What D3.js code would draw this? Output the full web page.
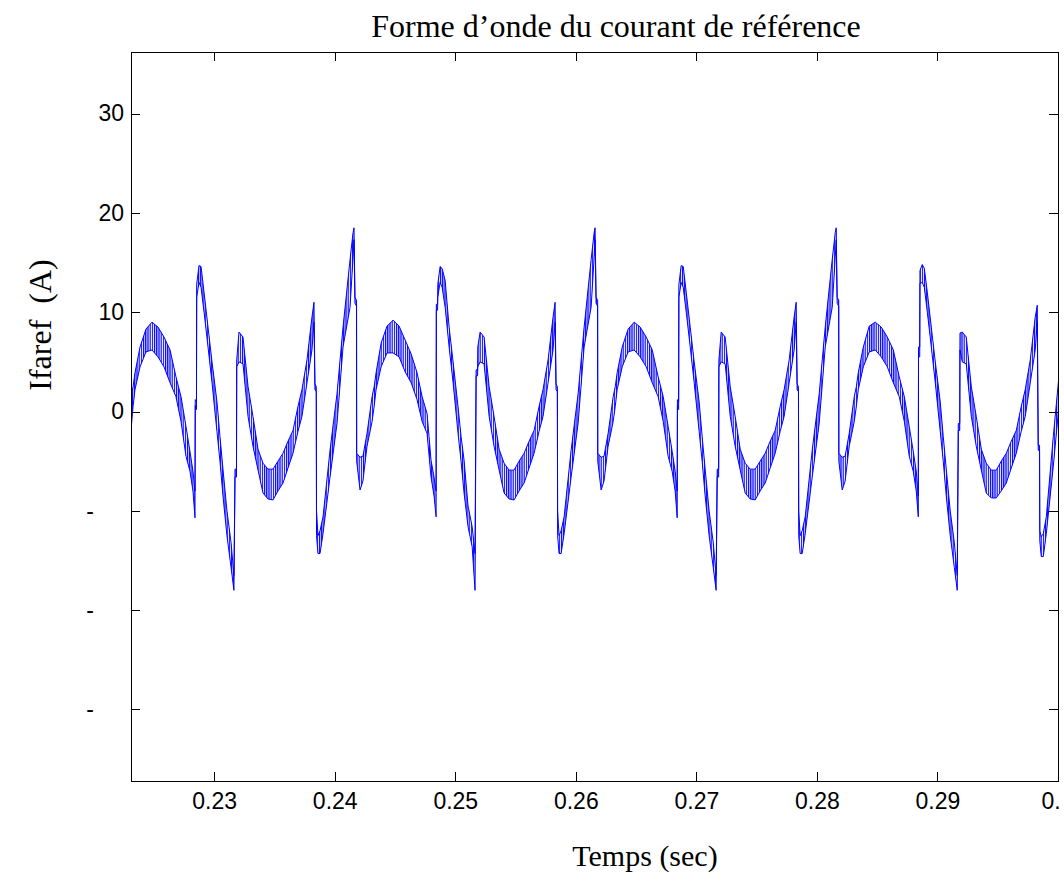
<!DOCTYPE html>
<html>
<head>
<meta charset="utf-8">
<script src="https://cdn.jsdelivr.net/npm/d3@7"></script>
<style>
  html, body { margin: 0; padding: 0; background: #fff; overflow: hidden; }
  svg { display: block; }
</style>
</head>
<body>
<svg id="chart" width="1064" height="889"></svg>
<script>
// ---- Text ----
const titleText = "Forme d’onde du courant de référence";
const xLabelText = "Temps (sec)";
const yLabelText = "Ifaref  (A)";

// ---- Ticks ----
const xTicks = [0.23, 0.24, 0.25, 0.26, 0.27, 0.28, 0.29, 0.30];
const xTickLabels = ["0.23", "0.24", "0.25", "0.26", "0.27", "0.28", "0.29", "0."];
const yTicks = [-30, -20, -10, 0, 10, 20, 30];
const yTickLabels = ["-", "-", "-", "0", "10", "20", "30"];

// ---- Reference current (A): switching-ripple envelope, one mains cycle per array ----
const cycleStart = [0.2231, 0.2431, 0.2631, 0.2831];
const phase = [0, 0.00017, 0.00033, 0.00075, 0.00124, 0.00174, 0.00224, 0.00274, 0.00324, 0.00373,
  0.00415, 0.00456, 0.00489, 0.00514, 0.00531, 0.00533, 0.00543, 0.00545, 0.00564, 0.00581,
  0.00606, 0.00639, 0.00672, 0.00713, 0.00738, 0.00763, 0.00796, 0.00830, 0.00854, 0.00863,
  0.00875, 0.00877, 0.00896, 0.00929, 0.00971, 0.01012, 0.01054, 0.01095, 0.01136, 0.01178,
  0.01219, 0.01261, 0.01302, 0.01344, 0.01385, 0.01418, 0.01460, 0.01501, 0.01518, 0.01526,
  0.01537, 0.01539, 0.01551, 0.01568, 0.01593, 0.01651, 0.01709, 0.01759, 0.01817, 0.01842,
  0.01850, 0.01858, 0.01871, 0.01872, 0.01900, 0.01924, 0.01958];

const upper1 = [1.5, 2.5, 3.9, 6.5, 8.3, 9.0, 8.5, 7.5, 6.2, 3.5,
  1.5, -1.5, -4.0, -6.0, -8.0, 1.2, 1.0, 12.8, 14.7, 14.6,
  12.0, 8.5, 5.0, 1.0, -2.5, -5.8, -10.0, -13.2, -16.5, -5.8,
  -5.8, 5.2, 8.0, 7.5, 2.5, -0.5, -3.8, -5.2, -5.8, -5.8,
  -5.0, -4.2, -3.0, -1.9, 0.5, 2.2, 5.2, 9.5, 11.0, 2.8,
  2.5, -10.0, -12.5, -12.0, -10.6, -3.9, 1.8, 8.5, 15.3, 18.0,
  18.5, 11.5, 11.2, -4.2, -4.6, -4.5, -2.2];
const lower1 = [-1.9, 0.5, 2.2, 4.5, 6.0, 6.2, 5.5, 4.5, 2.9, 1.5,
  -1.0, -4.5, -6.0, -8.0, -10.7, 0.6, 0.2, 11.5, 13.0, 12.5,
  10.0, 6.5, 2.9, -2.0, -5.0, -8.5, -12.5, -15.7, -18.0, -6.6,
  -6.6, 4.5, 5.0, 4.8, -0.5, -3.5, -5.9, -8.2, -8.8, -8.9,
  -8.0, -7.2, -5.7, -4.2, -2.0, -0.5, 2.9, 6.2, 9.0, 2.2,
  2.0, -12.5, -14.3, -14.3, -12.3, -6.6, -1.2, 6.5, 10.5, 15.5,
  17.3, 10.9, 10.6, -5.0, -7.9, -7.0, -3.5];

const upper2 = [1.5, 2.5, 3.9, 6.9, 8.6, 9.2, 8.6, 7.2, 5.8, 3.9,
  1.5, -0.2, -4.9, -6.6, -8.0, 10.8, 10.8, 12.8, 14.6, 14.4,
  13.2, 8.5, 5.0, 0.5, -2.5, -4.9, -9.5, -11.6, -14.3, 4.2,
  4.2, 6.5, 8.0, 7.5, 2.5, -0.5, -3.8, -5.2, -5.9, -5.9,
  -5.0, -4.2, -3.0, -1.9, 0.5, 2.2, 5.2, 9.5, 11.0, 2.8,
  2.5, -10.0, -12.5, -12.0, -10.6, -3.9, 1.8, 8.5, 15.3, 18.0,
  18.5, 11.5, 11.2, -4.2, -4.6, -4.5, -2.2];
const lower2 = [-1.0, 0.5, 2.2, 4.5, 5.9, 5.9, 5.5, 4.0, 2.9, 1.2,
  -1.0, -2.2, -6.6, -8.5, -10.6, 10.2, 10.2, 11.5, 13.0, 12.5,
  10.5, 6.5, 2.9, -2.2, -5.0, -8.2, -11.6, -13.6, -18.0, 3.6,
  3.6, 4.5, 5.0, 4.8, -0.5, -3.5, -5.9, -8.2, -8.8, -8.9,
  -8.0, -7.2, -5.7, -4.2, -2.0, -0.5, 2.9, 6.2, 9.0, 2.2,
  2.0, -12.5, -14.3, -14.3, -12.3, -6.6, -1.2, 6.5, 10.5, 15.5,
  17.3, 10.9, 10.6, -5.0, -7.9, -7.0, -3.5];

const upper3 = [1.5, 2.5, 3.9, 6.5, 8.3, 9.0, 8.5, 7.5, 6.2, 3.5,
  1.5, -1.5, -4.0, -6.0, -8.0, 1.2, 1.0, 12.8, 14.7, 14.6,
  12.0, 8.5, 5.0, 1.0, -2.5, -5.8, -10.0, -13.2, -16.5, -5.8,
  -5.8, 5.2, 8.0, 7.5, 2.5, -0.5, -3.8, -5.2, -5.8, -5.8,
  -5.0, -4.2, -3.0, -1.9, 0.5, 2.2, 5.2, 9.5, 11.0, 2.8,
  2.5, -10.0, -12.5, -12.0, -10.6, -3.9, 1.8, 8.5, 15.3, 18.0,
  18.5, 11.5, 11.2, -4.2, -4.6, -4.5, -2.2];
const lower3 = [-1.0, 0.5, 2.2, 4.5, 6.0, 6.2, 5.5, 4.5, 2.9, 1.5,
  -1.0, -4.5, -6.0, -8.0, -10.7, 0.6, 0.2, 11.5, 13.0, 12.5,
  10.0, 6.5, 2.9, -2.0, -5.0, -8.5, -12.5, -15.7, -18.0, -6.6,
  -6.6, 4.5, 5.0, 4.8, -0.5, -3.5, -5.9, -8.2, -8.8, -8.9,
  -8.0, -7.2, -5.7, -4.2, -2.0, -0.5, 2.9, 6.2, 9.0, 2.2,
  2.0, -12.5, -14.3, -14.3, -12.3, -6.6, -1.2, 6.5, 10.5, 15.5,
  17.3, 10.9, 10.6, -5.0, -7.9, -7.0, -3.5];

const upper4 = [1.5, 2.5, 3.9, 6.5, 8.6, 9.0, 8.5, 7.5, 6.2, 3.5,
  1.5, -1.5, -4.0, -6.0, -8.5, 6.5, 6.5, 14.2, 14.8, 14.4,
  12.0, 8.5, 5.0, 1.0, -2.5, -5.8, -10.0, -13.2, -16.5, -1.2,
  -1.2, 7.9, 8.0, 7.5, 2.5, -0.5, -3.8, -5.2, -5.9, -5.9,
  -5.0, -4.2, -3.0, -1.9, 0.5, 2.2, 5.2, 9.5, 10.7, -3.4,
  -3.4, -12.0, -12.6, -12.3, -10.6, -2.5, 5.0];
const lower4 = [-1.0, 0.5, 2.2, 4.5, 6.0, 6.2, 5.5, 4.5, 2.9, 1.5,
  -1.0, -4.5, -6.0, -8.0, -10.6, 5.5, 5.5, 12.9, 13.0, 12.5,
  10.0, 6.5, 2.9, -2.0, -5.0, -8.5, -12.5, -15.7, -18.0, -1.9,
  -1.9, 6.2, 5.0, 4.8, -0.5, -3.5, -5.9, -8.2, -8.7, -8.7,
  -8.0, -7.2, -5.7, -4.2, -2.0, -0.5, 2.9, 6.2, 9.0, -3.9,
  -3.9, -13.0, -14.6, -14.6, -12.3, -5.5, 2.0];

const upperCycles = [upper1, upper2, upper3, upper4];
const lowerCycles = [lower1, lower2, lower3, lower4];

// ---- Layout ----
const svg = d3.select("#chart");
const plotLeft = 131, plotRight = 1058, plotTop = 52, plotBottom = 781;

const x = d3.scaleLinear().domain([0.2231, 0.30]).range([plotLeft, plotRight]);
const y = d3.scaleLinear().domain([-37.2, 36.2]).range([plotBottom, plotTop]);

// assemble the samples: time = cycle start + phase offset
const samples = [];
upperCycles.forEach((up, k) => {
  up.forEach((hi, i) => {
    samples.push({ t: cycleStart[k] + phase[i], hi: hi, lo: lowerCycles[k][i] });
  });
});

const defs = svg.append("defs");
defs.append("clipPath").attr("id", "plotClip")
  .append("rect").attr("x", plotLeft).attr("y", plotTop)
  .attr("width", plotRight - plotLeft).attr("height", plotBottom - plotTop);

// vertical hatch standing in for the PWM switching ripple
const pat = defs.append("pattern").attr("id", "ripple")
  .attr("patternUnits", "userSpaceOnUse")
  .attr("width", 2.2).attr("height", 20);
pat.append("rect").attr("x", 0).attr("y", 0).attr("width", 1.2).attr("height", 20)
  .attr("fill", "#0000ff");

const plot = svg.append("g").attr("clip-path", "url(#plotClip)");

const band = d3.area()
  .x(d => x(d.t))
  .y0(d => y(d.lo))
  .y1(d => y(d.hi));

plot.append("path").datum(samples)
  .attr("d", band)
  .attr("fill", "url(#ripple)")
  .attr("stroke", "none");

const upperLine = d3.line().x(d => x(d.t)).y(d => y(d.hi));
const lowerLine = d3.line().x(d => x(d.t)).y(d => y(d.lo));

plot.append("path").datum(samples).attr("d", upperLine)
  .attr("fill", "none").attr("stroke", "#0000ff").attr("stroke-width", 1);
plot.append("path").datum(samples).attr("d", lowerLine)
  .attr("fill", "none").attr("stroke", "#0000ff").attr("stroke-width", 1);

// ---- Axes (box with inward ticks on all four sides) ----
const tickFont = "'Liberation Sans', Arial, Helvetica, sans-serif";

const gB = svg.append("g").attr("transform", `translate(0,${plotBottom})`)
  .call(d3.axisBottom(x).tickValues(xTicks)
    .tickFormat((d, i) => xTickLabels[i])
    .tickSizeInner(-9).tickSizeOuter(0).tickPadding(12));
const gT = svg.append("g").attr("transform", `translate(0,${plotTop})`)
  .call(d3.axisTop(x).tickValues(xTicks).tickFormat("")
    .tickSizeInner(-9).tickSizeOuter(0));
const gL = svg.append("g").attr("transform", `translate(${plotLeft},0)`)
  .call(d3.axisLeft(y).tickValues(yTicks)
    .tickFormat((d, i) => yTickLabels[i])
    .tickSizeInner(-9).tickSizeOuter(0).tickPadding(7));
const gR = svg.append("g").attr("transform", `translate(${plotRight},0)`)
  .call(d3.axisRight(y).tickValues(yTicks).tickFormat("")
    .tickSizeInner(-9).tickSizeOuter(0));

[gB, gT, gL, gR].forEach(g => {
  g.select(".domain").remove();
  g.selectAll(".tick line").attr("stroke", "#000").attr("stroke-width", 1)
    .attr("shape-rendering", "crispEdges");
  g.selectAll("text").attr("fill", "#000")
    .style("font-family", tickFont).style("font-size", "23px");
});

// the last time label sits at the page edge: left-align it on its tick
gB.selectAll(".tick text").filter(d => d >= 0.30)
  .attr("text-anchor", "start").attr("x", -17);

// negative labels keep only the sign, sitting where the minus of "-10" would be
gL.selectAll(".tick text").filter(d => d < 0).attr("x", -37);

svg.append("rect")
  .attr("x", plotLeft).attr("y", plotTop)
  .attr("width", plotRight - plotLeft).attr("height", plotBottom - plotTop)
  .attr("fill", "none").attr("stroke", "#000").attr("stroke-width", 1)
  .attr("shape-rendering", "crispEdges");

// ---- Titles ----
const serif = "'Liberation Serif', 'Times New Roman', Times, serif";
svg.append("text").attr("x", 616).attr("y", 37)
  .attr("text-anchor", "middle")
  .style("font-family", serif).style("font-size", "32px")
  .text(titleText);

svg.append("text").attr("x", 645).attr("y", 866)
  .attr("text-anchor", "middle")
  .style("font-family", serif).style("font-size", "30px")
  .text(xLabelText);

svg.append("text")
  .attr("transform", "translate(51,325) rotate(-90)")
  .attr("text-anchor", "middle")
  .style("font-family", serif).style("font-size", "32px")
  .style("white-space", "pre")
  .text(yLabelText);
</script>
</body>
</html>
